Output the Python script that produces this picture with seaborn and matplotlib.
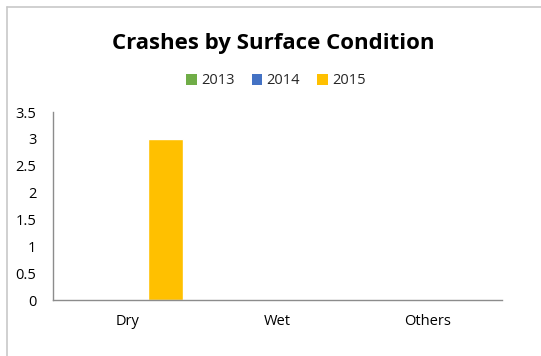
import matplotlib
matplotlib.use("Agg")
import matplotlib.pyplot as plt
from matplotlib.lines import Line2D
from matplotlib.patches import Patch
import seaborn as sns
import pandas as pd

# Crash counts per road surface condition and year
conditions = ["Dry", "Wet", "Others"]
years = ["2013", "2014", "2015"]
crashes_2013 = [0, 0, 0]
crashes_2014 = [0, 0, 0]
crashes_2015 = [3, 0, 0]
year_colors = ["#70AD47", "#4472C4", "#FFC000"]
y_ticks = [0, 0.5, 1, 1.5, 2, 2.5, 3, 3.5]

df = pd.DataFrame({
    "Condition": conditions * 3,
    "Year": [y for y in years for _ in conditions],
    "Crashes": crashes_2013 + crashes_2014 + crashes_2015,
})

sns.set_style("white")
font = ["Open Sans", "DejaVu Sans"]
plt.rcParams["font.family"] = font

fig = plt.figure(figsize=(5.41, 3.56), dpi=100)
ax = fig.add_axes([53 / 541, 1 - 300 / 356, (502 - 53) / 541, (300 - 112) / 356])

sns.barplot(data=df, x="Condition", y="Crashes", hue="Year", order=conditions,
            hue_order=years, palette=year_colors, width=0.756, gap=0.09,
            saturation=1, ax=ax, legend=False)

ax.set_ylim(0, 3.5)
ax.set_xlim(-0.5, 2.5)
ax.set_yticks(y_ticks)
ax.set_yticklabels([f"{t:g}" for t in y_ticks])
ax.set_xlabel("")
ax.set_ylabel("")

spine_color = "#8c8c8c"
for s in ["top", "right"]:
    ax.spines[s].set_visible(False)
for s in ["left", "bottom"]:
    ax.spines[s].set_color(spine_color)
    ax.spines[s].set_linewidth(1.0)

ax.tick_params(axis="y", which="major", direction="out", length=4, width=1,
               color=spine_color, pad=8, labelsize=10.5, labelcolor="#000000")
ax.tick_params(axis="x", which="major", length=0, pad=10, labelsize=10.5,
               labelcolor="#000000")
ax.set_xticks([-0.5, 0.5, 1.5, 2.5], minor=True)
ax.tick_params(axis="x", which="minor", direction="out", length=4, width=1,
               color=spine_color)

fig.text(0.506, 1 - 43 / 356, "Crashes by Surface Condition", ha="center",
         va="center", fontsize=16, fontweight="bold", color="#000000")

handles = [Patch(facecolor=c, edgecolor="none") for c in year_colors]
fig.legend(handles, years, loc="center", bbox_to_anchor=(0.51, 1 - 81 / 356),
           ncol=3, frameon=False, fontsize=10.5, handlelength=0.72,
           handleheight=0.72, handletextpad=0.27, columnspacing=1.2)

# Chart frame
border = "#c8c8c8"
fig.add_artist(Line2D([7 / 541, 7 / 541], [0, 1 - 7 / 356], color=border,
                      lw=1.2, transform=fig.transFigure))
fig.add_artist(Line2D([7 / 541, 1], [1 - 7 / 356, 1 - 7 / 356], color=border,
                      lw=1.2, transform=fig.transFigure))

fig.savefig("out.png", dpi=100, facecolor="white")
